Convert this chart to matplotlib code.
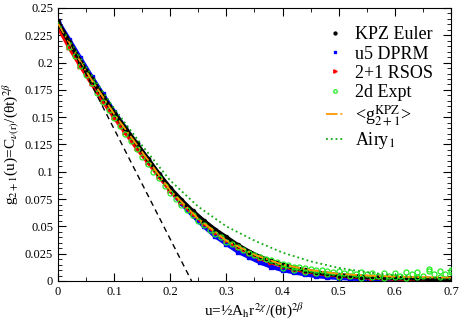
import numpy as np
import matplotlib
matplotlib.use("Agg")
import matplotlib.pyplot as plt
from matplotlib.ticker import MultipleLocator, FuncFormatter

plt.rcParams['font.family'] = ['Liberation Serif', 'DejaVu Serif']
plt.rcParams['mathtext.fontset'] = 'stix'

# values
u_grid = [0.00, 0.02, 0.04, 0.06, 0.08, 0.10, 0.12, 0.14, 0.16, 0.18,
          0.20, 0.22, 0.24, 0.26, 0.28, 0.30, 0.32, 0.34, 0.36, 0.38,
          0.40, 0.42, 0.44, 0.46, 0.48, 0.50, 0.52, 0.54, 0.56, 0.58,
          0.60, 0.62, 0.64, 0.66, 0.68, 0.70]

kpz_euler = [0.237, 0.219, 0.201, 0.185, 0.169, 0.154, 0.140, 0.126, 0.112, 0.098,
             0.085, 0.074, 0.064, 0.055, 0.047, 0.040, 0.033, 0.027, 0.022, 0.018,
             0.015, 0.012, 0.010, 0.008, 0.0065, 0.0055, 0.0045, 0.004, 0.0035, 0.003,
             0.0027, 0.0025, 0.0022, 0.002, 0.0018, 0.0016]

u5_dprm = [0.238, 0.221, 0.204, 0.187, 0.171, 0.155, 0.140, 0.125, 0.111, 0.097,
           0.083, 0.071, 0.060, 0.050, 0.041, 0.034, 0.027, 0.022, 0.017, 0.013,
           0.010, 0.008, 0.006, 0.0045, 0.0035, 0.0028, 0.0022, 0.0018, 0.0015, 0.0012,
           0.001, 0.0009, 0.0008, 0.0007, 0.0006, 0.0005]

rsos = [0.233, 0.214, 0.197, 0.181, 0.165, 0.150, 0.136, 0.122, 0.109, 0.096,
        0.083, 0.072, 0.062, 0.053, 0.045, 0.038, 0.031, 0.026, 0.021, 0.017,
        0.014, 0.011, 0.009, 0.0075, 0.006, 0.005, 0.0042, 0.0036, 0.003, 0.0026,
        0.0022, 0.002, 0.0017, 0.0015, 0.0012, 0.001]

expt_u = [0.02, 0.03, 0.04, 0.05, 0.06, 0.07, 0.08, 0.09, 0.10, 0.11,
          0.12, 0.13, 0.14, 0.15, 0.16, 0.17, 0.18, 0.19, 0.20, 0.21,
          0.22, 0.23, 0.24, 0.25, 0.26, 0.27, 0.28, 0.29, 0.30, 0.31,
          0.32, 0.33, 0.34, 0.35, 0.36, 0.37, 0.38, 0.39, 0.40, 0.41,
          0.42, 0.43, 0.44, 0.45, 0.46, 0.47, 0.48, 0.49, 0.50, 0.51,
          0.52, 0.53, 0.54, 0.55, 0.56, 0.57, 0.58, 0.59, 0.60, 0.61,
          0.62, 0.63, 0.64, 0.65, 0.66, 0.67, 0.68, 0.69, 0.70]
expt_g = [0.214, 0.206, 0.197, 0.189, 0.181, 0.172, 0.164, 0.157, 0.149, 0.142,
          0.135, 0.128, 0.121, 0.114, 0.107, 0.100, 0.094, 0.087, 0.081, 0.075,
          0.070, 0.065, 0.060, 0.055, 0.051, 0.047, 0.043, 0.040, 0.036, 0.034,
          0.031, 0.028, 0.026, 0.024, 0.022, 0.020, 0.019, 0.017, 0.016, 0.015,
          0.013, 0.013, 0.012, 0.011, 0.010, 0.010, 0.009, 0.008, 0.009, 0.007,
          0.008, 0.006, 0.008, 0.006, 0.007, 0.005, 0.007, 0.005, 0.007, 0.005,
          0.008, 0.006, 0.008, 0.005, 0.009, 0.006, 0.009, 0.006, 0.008]

expt_u2 = [0.40, 0.42, 0.44, 0.46, 0.48, 0.50, 0.52, 0.54, 0.56, 0.58,
           0.60, 0.62, 0.64, 0.66, 0.68, 0.70]
expt_g2 = [0.012, 0.010, 0.008, 0.007, 0.006, 0.004, 0.005, 0.003, 0.004, 0.003,
           0.004, 0.003, 0.004, 0.011, 0.004, 0.010]

mean_u = [0.00, 0.05, 0.10, 0.15, 0.20, 0.25, 0.30, 0.35, 0.40, 0.45,
          0.50, 0.55, 0.60, 0.65, 0.70]
mean_g = [0.236, 0.192, 0.153, 0.118, 0.083, 0.057, 0.037, 0.024, 0.015, 0.010,
          0.0065, 0.005, 0.004, 0.0035, 0.003]

airy_u = [0.00, 0.05, 0.10, 0.15, 0.20, 0.25, 0.30, 0.35, 0.40, 0.45,
          0.50, 0.55, 0.60, 0.65, 0.70]
airy_g = [0.237, 0.196, 0.158, 0.124, 0.092, 0.068, 0.050, 0.037, 0.026, 0.018,
          0.012, 0.008, 0.005, 0.003, 0.002]

tangent_u = [0.0, 0.238]
tangent_g = [0.240, 0.0]

fig = plt.figure(figsize=(4.62, 3.29), dpi=100)
ax = fig.add_axes([0.1255, 0.1459, 0.8506, 0.8298])

# dense data drawn as thick band + markers
ax.plot(u_grid, u5_dprm, color='blue', lw=3, zorder=1)
ax.plot(u_grid, u5_dprm, ls='none', marker='s', ms=3, color='blue', label='u5 DPRM', zorder=1)
ax.plot(u_grid, rsos, color='red', lw=3, zorder=2)
ax.plot(u_grid, rsos, ls='none', marker='>', ms=3.5, color='red', label='2+1 RSOS', zorder=2)
ax.plot(u_grid, kpz_euler, color='black', lw=3, zorder=3)
ax.plot(u_grid, kpz_euler, ls='none', marker='o', ms=3, color='black', label='KPZ Euler', zorder=3)
ax.plot(expt_u, expt_g, ls='none', marker='o', ms=3.6, mfc='none', mec='#22ee22', mew=0.9,
        label='2d Expt', zorder=4)
ax.plot(expt_u2, expt_g2, ls='none', marker='o', ms=3.6, mfc='none', mec='#22ee22', mew=0.9, zorder=4)
ax.plot(mean_u, mean_g, color='#ff9900', ls='-.', lw=1.3,
        label=r'<g$_{2+1}^{\mathrm{KPZ}}$>', zorder=5)
ax.plot(airy_u, airy_g, color='#11aa11', ls=':', lw=1.3, label=r'Airy$_1$', zorder=6)
ax.plot(tangent_u, tangent_g, color='black', ls=(0, (4, 3)), lw=1.0, zorder=6)

ax.set_xlim(0, 0.7)
ax.set_ylim(0, 0.25)
ax.xaxis.set_major_locator(MultipleLocator(0.1))
ax.xaxis.set_minor_locator(MultipleLocator(0.05))
ax.yaxis.set_major_locator(MultipleLocator(0.025))
ax.yaxis.set_minor_locator(MultipleLocator(0.005))
fmt = FuncFormatter(lambda v, p: '{:g}'.format(round(v, 3)))
ax.xaxis.set_major_formatter(fmt)
ax.yaxis.set_major_formatter(fmt)
ax.tick_params(which='both', direction='in', top=True, right=True, labelsize=9)
ax.tick_params(which='major', length=6)
ax.tick_params(which='minor', length=3)

ax.set_xlabel(r'u=½A$_\mathrm{h}$r$^{2\chi}$/(θt)$^{2\beta}$', fontsize=11, labelpad=2)
ax.set_ylabel(r'g$_{2+1}$(u)=C$_{\nu(\mathrm{r})}$/(θt)$^{2\beta}$', fontsize=11, labelpad=2)

handles, labels = ax.get_legend_handles_labels()
order = ['KPZ Euler', 'u5 DPRM', '2+1 RSOS', '2d Expt', labels[4], labels[5]]
hmap = dict(zip(labels, handles))
ax.legend([hmap[k] for k in order], order, loc='upper left', bbox_to_anchor=(0.655, 0.972),
          frameon=False, fontsize=13, labelspacing=0.12, handlelength=1.0,
          handletextpad=0.6, borderaxespad=0.2, markerscale=0.7)

fig.savefig('out.png', dpi=100)
